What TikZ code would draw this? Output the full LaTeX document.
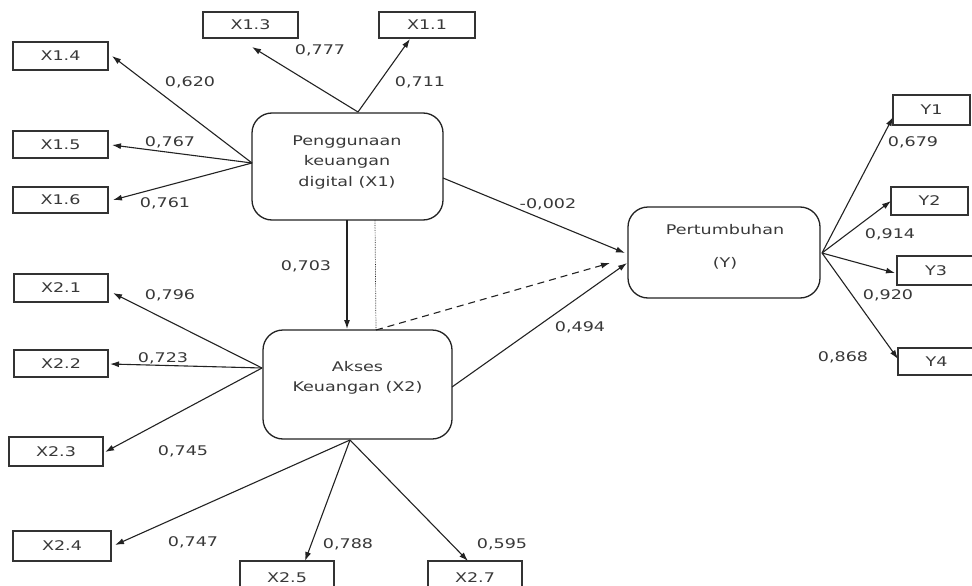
\documentclass[tikz,border=0pt]{standalone}
\usepackage{fontspec}
\setmainfont{DejaVu Sans}
\usetikzlibrary{arrows.meta}
\definecolor{linec}{HTML}{222222}
\definecolor{boxc}{HTML}{333333}
\definecolor{txtc}{HTML}{383838}
\newcommand\wt[1]{\scalebox{1.32}[1]{#1}}
\newcommand\lblfont{\fontsize{13.3}{20.5}\selectfont}
\tikzset{
  ind/.style={draw=boxc, line width=1.3pt, inner sep=0pt, font=\lblfont, text=txtc},
  lat/.style={draw=linec, line width=1.3pt, rounded corners=20pt, inner sep=0pt},
  ltext/.style={font=\lblfont, text=txtc, align=center, inner sep=0pt},
  lab/.style={font=\lblfont, text=txtc, inner sep=0pt},
  arr/.style={draw=linec, line width=1.1pt, -{Latex[length=9pt,width=6pt]}},
}
\begin{document}
\begin{tikzpicture}[x=1pt,y=-1pt]
\useasboundingbox (0,0) rectangle (972,586);
% latent boxes
\node[lat, minimum width=191pt, minimum height=107pt] (x1) at (347.5,166.5) {};
\node[ltext] (x1t) at (347,162.5) {\wt{Penggunaan}\\\wt{keuangan}\\\wt{digital (X1)}};
\node[lat, minimum width=189pt, minimum height=109pt] (x2) at (357.5,384.5) {};
\node[ltext] (x2t) at (357.5,378) {\wt{Akses}\\\wt{Keuangan (X2)}};
\node[lat, minimum width=192pt, minimum height=91pt] (y) at (724,252.5) {};
\node[ltext] (yt) at (725,246.5) {\wt{Pertumbuhan}\\[12.5pt]\wt{(Y)}};
% indicator boxes X1
\node[ind, minimum width=95pt, minimum height=26pt] (x13) at (250.5,25) {\wt{X1.3}};
\node[ind, minimum width=96pt, minimum height=26pt] (x11) at (427,25) {\wt{X1.1}};
\node[ind, minimum width=95pt, minimum height=28pt] (x14) at (60.5,56) {\wt{X1.4}};
\node[ind, minimum width=95pt, minimum height=27pt] (x15) at (60.5,144.5) {\wt{X1.5}};
\node[ind, minimum width=95pt, minimum height=26pt] (x16) at (60.5,200) {\wt{X1.6}};
% indicator boxes X2
\node[ind, minimum width=94pt, minimum height=28pt] (x21) at (61,288) {\wt{X2.1}};
\node[ind, minimum width=94pt, minimum height=27pt] (x22) at (61,363.5) {\wt{X2.2}};
\node[ind, minimum width=94pt, minimum height=29pt] (x23) at (56,451.5) {\wt{X2.3}};
\node[ind, minimum width=98pt, minimum height=30pt] (x24) at (62,546) {\wt{X2.4}};
\node[ind, minimum width=94pt, minimum height=34pt] (x25) at (287,578) {\wt{X2.5}};
\node[ind, minimum width=94pt, minimum height=34pt] (x27) at (475,578) {\wt{X2.7}};
% indicator boxes Y
\node[ind, minimum width=77pt, minimum height=30pt] (y1) at (931.5,110) {\wt{Y1}};
\node[ind, minimum width=77pt, minimum height=28pt] (y2) at (929.5,201) {\wt{Y2}};
\node[ind, minimum width=78pt, minimum height=29pt] (y3) at (936,270.5) {\wt{Y3}};
\node[ind, minimum width=77pt, minimum height=27pt] (y4) at (936.5,361.5) {\wt{Y4}};
% origins and tips
\coordinate (o1t) at (358,112);
\coordinate (o1l) at (252,163);
\coordinate (o1r) at (443,178);
\coordinate (o1b) at (347,220);
\coordinate (o1d) at (375,220);
\coordinate (i2t) at (347,329);
\coordinate (o2d) at (376,330);
\coordinate (o2l) at (262,368);
\coordinate (o2b) at (350,440);
\coordinate (o2r) at (452,387);
\coordinate (oy) at (822,253);
\coordinate (iy1) at (625,253);
\coordinate (iy2) at (627,263);
\coordinate (iyd) at (610,263);
\coordinate (t13) at (252,47);
\coordinate (t11) at (410,39);
\coordinate (t14) at (112,56);
\coordinate (t15) at (112,145);
\coordinate (t16) at (113,200);
\coordinate (t21) at (113,293);
\coordinate (t22) at (110,364);
\coordinate (t23) at (105,452);
\coordinate (t24) at (115,545);
\coordinate (t25) at (305,561);
\coordinate (t27) at (468,561);
\coordinate (ty1) at (893,117);
\coordinate (ty2) at (891,201);
\coordinate (ty3) at (895,273);
\coordinate (ty4) at (898,359);
% connectors X1
\draw[arr] (o1t) -- (t13);
\draw[arr] (o1t) -- (t11);
\draw[arr] (o1l) -- (t14);
\draw[arr] (o1l) -- (t15);
\draw[arr] (o1l) -- (t16);
% connectors X2
\draw[arr] (o2l) -- (t21);
\draw[arr] (o2l) -- (t22);
\draw[arr] (o2l) -- (t23);
\draw[arr] (o2b) -- (t24);
\draw[arr] (o2b) -- (t25);
\draw[arr] (o2b) -- (t27);
% connectors Y
\draw[arr] (oy) -- (ty1);
\draw[arr] (oy) -- (ty2);
\draw[arr] (oy) -- (ty3);
\draw[arr] (oy) -- (ty4);
% structural paths
\draw[arr] (o1b) -- (i2t);
\draw[draw=linec, line width=0.7pt, densely dotted] (o1d) -- (o2d);
\draw[arr, dashed, dash pattern=on 7pt off 5pt] (o2d) -- (iyd);
\draw[arr] (o1r) -- (iy1);
\draw[arr] (o2r) -- (iy2);
% labels
\node[lab] (l777) at (320,50) {\wt{0,777}};
\node[lab] (l711) at (420,82) {\wt{0,711}};
\node[lab] (l620) at (190,82) {\wt{0,620}};
\node[lab] (l767) at (170,142) {\wt{0,767}};
\node[lab] (l761) at (165,203) {\wt{0,761}};
\node[lab] (l002) at (548,204) {\wt{-0,002}};
\node[lab] (l703) at (306,266) {\wt{0,703}};
\node[lab] (l494) at (580,327) {\wt{0,494}};
\node[lab] (l796) at (170,295) {\wt{0,796}};
\node[lab] (l723) at (163,358) {\wt{0,723}};
\node[lab] (l745) at (183,451) {\wt{0,745}};
\node[lab] (l747) at (193,542) {\wt{0,747}};
\node[lab] (l788) at (348,544) {\wt{0,788}};
\node[lab] (l595) at (502,544) {\wt{0,595}};
\node[lab] (l679) at (913,142) {\wt{0,679}};
\node[lab] (l914) at (890,234) {\wt{0,914}};
\node[lab] (l920) at (888,295) {\wt{0,920}};
\node[lab] (l868) at (843,357) {\wt{0,868}};
\end{tikzpicture}
\end{document}
